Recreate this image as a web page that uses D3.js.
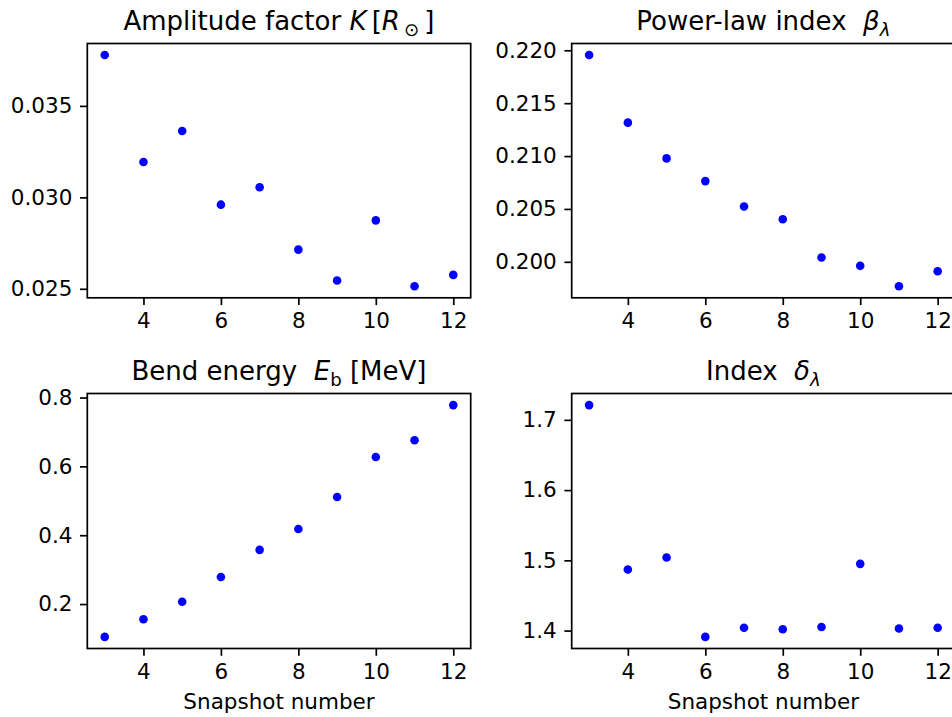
<!DOCTYPE html>
<html>
<head>
<meta charset="utf-8">
<script src="https://cdn.jsdelivr.net/npm/d3@7"></script>
<style>
  body { margin: 0; background: #fff; }
  text { font-family: "DejaVu Sans", sans-serif; fill: #000; white-space: pre; }
</style>
</head>
<body>
<div id="chart"></div>
<script>
// data
const snapshots = [3, 4, 5, 6, 7, 8, 9, 10, 11, 12];
const amplitudeK = [0.03778, 0.03193, 0.03363, 0.02960, 0.03055, 0.02714, 0.02545, 0.02874, 0.02514, 0.02576];
const betaLambda = [0.21955, 0.21316, 0.20978, 0.20763, 0.20523, 0.20403, 0.20041, 0.19962, 0.19769, 0.19911];
const bendEnergy = [0.1046, 0.156, 0.2067, 0.2788, 0.3575, 0.418, 0.511, 0.627, 0.676, 0.778];
const deltaLambda = [1.721, 1.487, 1.504, 1.391, 1.404, 1.402, 1.405, 1.495, 1.403, 1.404];

// tick values
const xTicks = [4, 6, 8, 10, 12];
const kTicks = [0.025, 0.030, 0.035];
const betaTicks = [0.200, 0.205, 0.210, 0.215, 0.220];
const energyTicks = [0.2, 0.4, 0.6, 0.8];
const deltaTicks = [1.4, 1.5, 1.6, 1.7];

const WIDTH = 952, HEIGHT = 717;
const FS = 21.5;       // tick / label font
const TITLE_FS = 26;
const TICK_LEN = 7.3, TICK_PAD = 7.6, LW = 1.7;

const svg = d3.select("#chart")
  .append("svg")
  .attr("width", WIDTH)
  .attr("height", HEIGHT);

// panel layout (the right column runs past the picture edge, like the original)
const panels = [
  {left: 87.3, top: 43.5, w: 383.4, h: 254.3, y: amplitudeK, ticks: kTicks, fmt: ".3f",
   title: [{t: "Amplitude factor "}, {t: "K", i: true}, {t: "\u2009["}, {t: "R", i: true}, {t: "⊙", sub: true, dx: 4}, {t: "\u2009]"}]},
  {left: 571.7, top: 43.5, w: 383.4, h: 254.3, y: betaLambda, ticks: betaTicks, fmt: ".3f",
   title: [{t: "Power-law index  "}, {t: "β", i: true}, {t: "λ", i: true, sub: true}]},
  {left: 87.3, top: 393.5, w: 383.4, h: 255, y: bendEnergy, ticks: energyTicks, fmt: ".1f", xlabel: true,
   title: [{t: "Bend energy  "}, {t: "E", i: true}, {t: "b", sub: true}, {t: " [MeV]"}]},
  {left: 571.7, top: 393.5, w: 383.4, h: 255, y: deltaLambda, ticks: deltaTicks, fmt: ".1f", xlabel: true,
   title: [{t: "Index  "}, {t: "δ", i: true}, {t: "λ", i: true, sub: true}]}
];

// matplotlib style 5% margins
function padded(ext) {
  const r = ext[1] - ext[0];
  return [ext[0] - 0.05 * r, ext[1] + 0.05 * r];
}

panels.forEach(function(p) {
  const g = svg.append("g").attr("transform", `translate(${p.left},${p.top})`);

  const x = d3.scaleLinear()
    .domain(padded(d3.extent(snapshots)))
    .range([0, p.w]);

  const y = d3.scaleLinear()
    .domain(padded(d3.extent(p.y)))
    .range([p.h, 0]);

  // points
  g.selectAll("circle")
    .data(snapshots)
    .enter()
    .append("circle")
      .attr("cx", (d) => x(d))
      .attr("cy", (d, i) => y(p.y[i]))
      .attr("r", 4.3)
      .attr("fill", "#0000ff");

  // axes
  const xAxis = g.append("g")
    .attr("transform", `translate(0,${p.h})`)
    .call(d3.axisBottom(x).tickValues(xTicks).tickSize(TICK_LEN).tickPadding(TICK_PAD).tickSizeOuter(0));

  const yAxis = g.append("g")
    .call(d3.axisLeft(y).tickValues(p.ticks).tickFormat(d3.format(p.fmt))
      .tickSize(TICK_LEN).tickPadding(TICK_PAD).tickSizeOuter(0));

  [xAxis, yAxis].forEach(function(a) {
    a.select(".domain").remove();
    a.selectAll("line").attr("stroke", "#000").attr("stroke-width", LW);
    a.selectAll("text").attr("font-size", FS).attr("font-family", "DejaVu Sans").attr("fill", "#000");
  });

  // frame
  g.append("rect")
    .attr("width", p.w)
    .attr("height", p.h)
    .attr("fill", "none")
    .attr("stroke", "#000")
    .attr("stroke-width", LW);

  // title with italic / subscript bits
  const title = g.append("text")
    .attr("x", p.w / 2)
    .attr("y", -13.5)
    .attr("text-anchor", "middle")
    .attr("font-size", TITLE_FS);

  let shifted = false;
  p.title.forEach(function(part) {
    const ts = title.append("tspan").text(part.t);
    if (part.i) ts.attr("font-style", "italic");
    if (part.dx) ts.attr("dx", part.dx);
    if (part.sub) {
      ts.attr("font-size", TITLE_FS * 0.7).attr("dy", 6);
      shifted = true;
    } else if (shifted) {
      ts.attr("dy", -6);
      shifted = false;
    }
  });

  if (p.xlabel) {
    g.append("text")
      .attr("x", p.w / 2)
      .attr("y", 709 - p.top)
      .attr("text-anchor", "middle")
      .attr("font-size", FS)
      .text("Snapshot number");
  }
});
</script>
</body>
</html>
